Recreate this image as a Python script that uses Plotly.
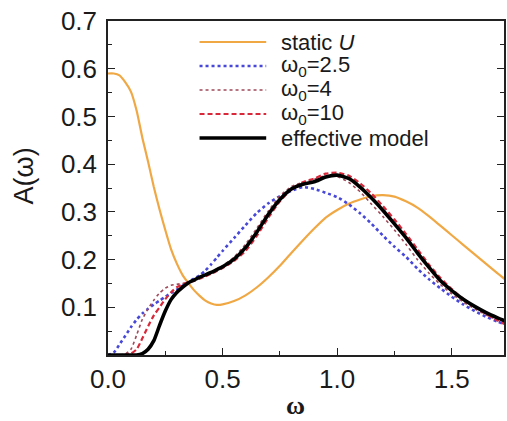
import plotly.graph_objects as go

omega = [0.0, 0.025, 0.05, 0.075, 0.1, 0.125, 0.15, 0.175, 0.2, 0.225, 0.25, 0.275,
         0.3, 0.325, 0.35, 0.375, 0.4, 0.425, 0.45, 0.475, 0.5,
         0.55, 0.6, 0.65, 0.7, 0.75, 0.8, 0.85, 0.9, 0.95, 1.0, 1.05, 1.1, 1.15,
         1.2, 1.25, 1.3, 1.35, 1.4, 1.45, 1.5, 1.55, 1.6, 1.65, 1.7, 1.75]

static_u = [0.590, 0.590, 0.586, 0.572, 0.552, 0.512, 0.455, 0.405, 0.352, 0.305, 0.262, 0.222,
            0.192, 0.168, 0.151, 0.136, 0.124, 0.114, 0.108, 0.105, 0.106,
            0.113, 0.125, 0.142, 0.163, 0.187, 0.214, 0.240, 0.265, 0.288, 0.304, 0.317, 0.326, 0.333,
            0.335, 0.332, 0.322, 0.309, 0.291, 0.271, 0.251, 0.231, 0.211, 0.191, 0.171, 0.152]

w0_2p5 = [0.0, 0.005, 0.022, 0.040, 0.058, 0.074, 0.087, 0.097, 0.106, 0.114, 0.122, 0.130,
          0.137, 0.145, 0.153, 0.160, 0.167, 0.177, 0.190, 0.204, 0.218,
          0.245, 0.272, 0.298, 0.318, 0.333, 0.344, 0.352, 0.348, 0.340, 0.331, 0.316, 0.297, 0.275,
          0.250, 0.227, 0.206, 0.181, 0.159, 0.140, 0.122, 0.106, 0.092, 0.080, 0.070, 0.061]

w0_4 = [0.0, 0.0, 0.0, 0.002, 0.012, 0.042, 0.075, 0.097, 0.115, 0.130, 0.140, 0.146,
        0.148, 0.150, 0.152, 0.156, 0.162, 0.168, 0.174, 0.180, 0.187,
        0.205, 0.232, 0.266, 0.302, 0.333, 0.353, 0.362, 0.368, 0.376, 0.374, 0.362, 0.342, 0.316,
        0.290, 0.262, 0.232, 0.200, 0.172, 0.148, 0.128, 0.111, 0.097, 0.084, 0.073, 0.063]

w0_10 = [0.0, 0.0, 0.0, 0.0, 0.003, 0.012, 0.035, 0.060, 0.083, 0.100, 0.117, 0.131,
         0.142, 0.148, 0.152, 0.155, 0.160, 0.165, 0.170, 0.176, 0.182,
         0.197, 0.218, 0.250, 0.288, 0.322, 0.347, 0.362, 0.370, 0.380, 0.382, 0.376, 0.360, 0.338,
         0.312, 0.284, 0.254, 0.222, 0.190, 0.162, 0.138, 0.118, 0.101, 0.086, 0.072, 0.060]

effective = [0.0, 0.0, 0.0, 0.0, 0.0, 0.0, 0.003, 0.012, 0.030, 0.062, 0.092, 0.116,
             0.131, 0.142, 0.151, 0.157, 0.163, 0.168, 0.173, 0.179, 0.185,
             0.201, 0.225, 0.258, 0.295, 0.326, 0.348, 0.358, 0.363, 0.373, 0.377, 0.370, 0.352, 0.329,
             0.303, 0.275, 0.246, 0.214, 0.184, 0.156, 0.135, 0.117, 0.102, 0.089, 0.078, 0.068]

legend_labels = ["static <i>U</i>", "ω<sub>0</sub>=2.5", "ω<sub>0</sub>=4",
                 "ω<sub>0</sub>=10", "effective model"]
x_tickvals = [0.0, 0.5, 1.0, 1.5]
x_ticktext = ["0.0", "0.5", "1.0", "1.5"]
y_tickvals = [0.1, 0.2, 0.3, 0.4, 0.5, 0.6, 0.7]

series = [static_u, w0_2p5, w0_4, w0_10, effective]
styles = [
    dict(color="#F0A845", width=2.2, dash="solid"),
    dict(color="#4848D8", width=2.6, dash="dot"),
    dict(color="#A04858", width=1.6, dash="dot"),
    dict(color="#D8283A", width=2.2, dash="5px,3px"),
    dict(color="#000000", width=3.6, dash="solid"),
]

FONT = "Liberation Sans, Arial, sans-serif"
TXT = "#1a1a1a"
fig = go.Figure()
for name, ys, st in zip(legend_labels, series, styles):
    fig.add_trace(go.Scatter(x=omega, y=ys, mode="lines", name=name,
                             line=dict(shape="spline", smoothing=0.6, **st),
                             showlegend=False))

# manual legend (keys + labels)
L, R, T, B = 108, 506, 21, 355
def px(xp):
    return (xp - L) / (R - L)
def py(yp):
    return (B - yp) / (B - T)
rows = [42, 66, 90, 114, 138]
for name, st, yr in zip(legend_labels, styles, rows):
    fig.add_shape(type="line", xref="paper", yref="paper",
                  x0=px(200), x1=px(267), y0=py(yr), y1=py(yr),
                  line=dict(color=st["color"], width=st["width"], dash=st["dash"]))
    fig.add_annotation(xref="paper", yref="paper", x=px(280), y=py(yr),
                       text=name, showarrow=False, xanchor="left", yanchor="middle",
                       font=dict(family=FONT, size=22, color=TXT))

fig.add_annotation(xref="paper", yref="paper", x=px(296), y=py(405), text="<b>ω</b>",
                   showarrow=False, xanchor="center", yanchor="middle",
                   font=dict(family="Liberation Serif, serif", size=26, color=TXT))
fig.add_annotation(xref="paper", yref="paper", x=px(24), y=py(176), text="A(ω)",
                   showarrow=False, xanchor="center", yanchor="middle", textangle=-90,
                   font=dict(family=FONT, size=27, color=TXT))

fig.update_layout(
    width=507, height=421,
    margin=dict(l=L, r=507 - R, t=T, b=421 - B),
    paper_bgcolor="white", plot_bgcolor="white",
    font=dict(family=FONT, size=26, color=TXT),
    xaxis=dict(range=[0, 1.728], tickvals=x_tickvals, ticktext=x_ticktext,
               ticks="inside", ticklen=7, tickwidth=1.3, tickcolor="#222",
               showline=True, linecolor="#222", linewidth=1.5, mirror=True,
               showgrid=False, zeroline=False,
               minor=dict(tickmode="linear", tick0=0, dtick=0.25, ticks="inside",
                          ticklen=4, tickcolor="#222", showgrid=False),
               tickfont=dict(size=26)),
    yaxis=dict(range=[0, 0.7], tickvals=y_tickvals, tickformat=".1f",
               ticks="inside", ticklen=7, tickwidth=1.3, tickcolor="#222",
               showline=True, linecolor="#222", linewidth=1.5, mirror="allticks",
               showgrid=False, zeroline=False, ticklabelstandoff=4,
               minor=dict(tickmode="linear", tick0=0, dtick=0.05, ticks="inside",
                          ticklen=4, tickcolor="#222", showgrid=False),
               tickfont=dict(size=26)),
)
fig.write_html("out.html")
